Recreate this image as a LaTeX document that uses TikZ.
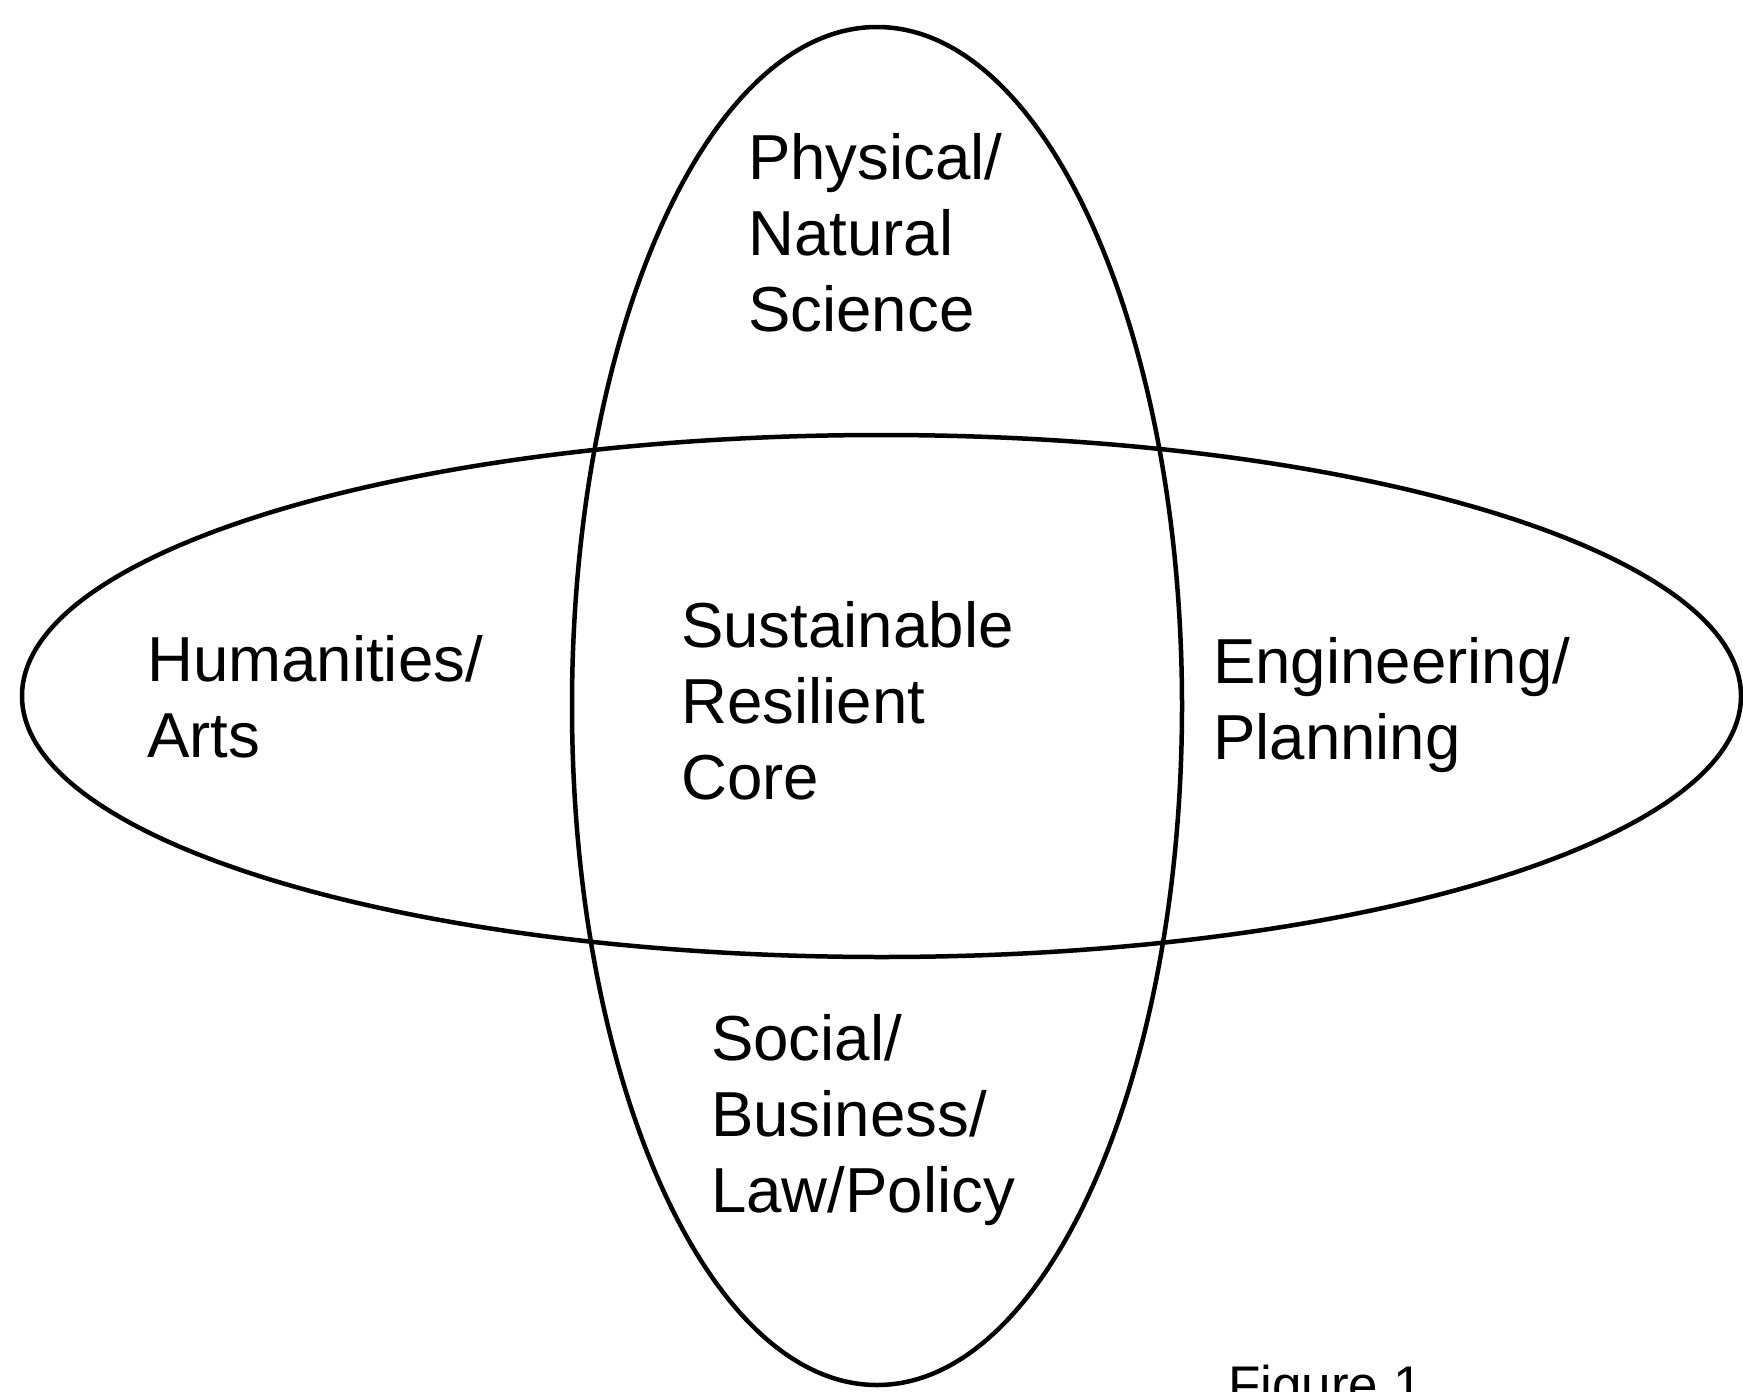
\documentclass[tikz,border=0pt]{standalone}
\usepackage{fontspec}
\setmainfont{Liberation Sans}
\begin{document}
\begin{tikzpicture}[x=1pt,y=-1pt,
  ring/.style={line width=4.5pt,draw=black},
  lbl/.style={anchor=base west,inner sep=0pt,align=left,font=\fontsize{63.6}{76}\selectfont},
  figcap/.style={anchor=base west,inner sep=0pt,font=\fontsize{53}{62}\selectfont}]
\clip (0,0) rectangle (1743,1392);
\fill[white] (0,0) rectangle (1743,1392);
\draw[ring] (877,706) ellipse [x radius=305, y radius=679];
\draw[ring] (881.5,696) ellipse [x radius=859.5, y radius=261];
\node[lbl] (phys) at (748,331) {Physical/\\Natural\\Science};
\node[lbl] (core) at (681,799) {Sustainable\\Resilient\\Core};
\node[lbl] (hum) at (147,757) {Humanities/\\Arts};
\node[lbl] (eng) at (1213,759) {Engineering/\\Planning};
\node[lbl] (soc) at (711,1212) {Social/\\Business/\\Law/Policy};
\node[figcap] (fig) at (1228,1403) {Figure 1};
\end{tikzpicture}
\end{document}
